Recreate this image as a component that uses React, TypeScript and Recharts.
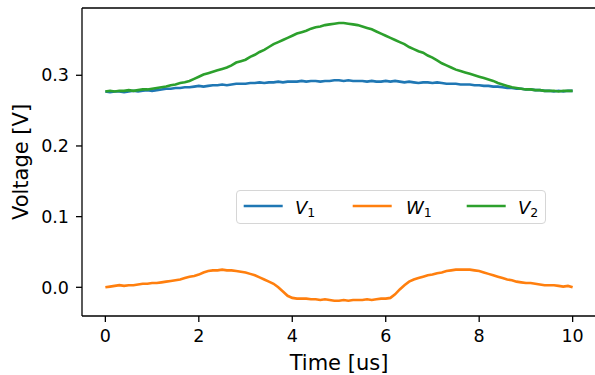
import React from "react";
import { LineChart, Line, XAxis, YAxis, Label, ReferenceLine } from "recharts";

const times = [
  0, 0.1, 0.2, 0.3, 0.4, 0.5, 0.6, 0.7, 0.8, 0.9,
  1, 1.1, 1.2, 1.3, 1.4, 1.5, 1.6, 1.7, 1.8, 1.9,
  2, 2.1, 2.2, 2.3, 2.4, 2.5, 2.6, 2.7, 2.8, 2.9,
  3, 3.1, 3.2, 3.3, 3.4, 3.5, 3.6, 3.7, 3.8, 3.9,
  4, 4.1, 4.2, 4.3, 4.4, 4.5, 4.6, 4.7, 4.8, 4.9,
  5, 5.1, 5.2, 5.3, 5.4, 5.5, 5.6, 5.7, 5.8, 5.9,
  6, 6.1, 6.2, 6.3, 6.4, 6.5, 6.6, 6.7, 6.8, 6.9,
  7, 7.1, 7.2, 7.3, 7.4, 7.5, 7.6, 7.7, 7.8, 7.9,
  8, 8.1, 8.2, 8.3, 8.4, 8.5, 8.6, 8.7, 8.8, 8.9,
  9, 9.1, 9.2, 9.3, 9.4, 9.5, 9.6, 9.7, 9.8, 9.9,
  10,
];

const v1 = [
  0.277, 0.276, 0.277, 0.277, 0.276, 0.277, 0.278, 0.277, 0.278, 0.279,
  0.278, 0.279, 0.28, 0.281, 0.281, 0.282, 0.282, 0.283, 0.283, 0.284,
  0.285, 0.284, 0.285, 0.286, 0.286, 0.287, 0.286, 0.287, 0.288, 0.288,
  0.288, 0.289, 0.289, 0.29, 0.289, 0.29, 0.29, 0.291, 0.29, 0.291,
  0.291, 0.291, 0.292, 0.291, 0.292, 0.292, 0.291, 0.292, 0.292, 0.293,
  0.293, 0.292, 0.293, 0.292, 0.292, 0.292, 0.291, 0.292, 0.291, 0.291,
  0.292, 0.291, 0.292, 0.291, 0.29, 0.291, 0.29, 0.289, 0.29, 0.29,
  0.289, 0.29, 0.289, 0.288, 0.288, 0.288, 0.287, 0.287, 0.287, 0.286,
  0.286, 0.285, 0.285, 0.284, 0.284, 0.283, 0.282, 0.282, 0.281, 0.281,
  0.28, 0.28, 0.279, 0.279, 0.278, 0.278, 0.277, 0.278, 0.277, 0.278,
  0.278,
];

const w1 = [
  0.0, 0.001, 0.002, 0.003, 0.002, 0.003, 0.003, 0.004, 0.005, 0.005,
  0.006, 0.006, 0.007, 0.008, 0.009, 0.01, 0.011, 0.013, 0.015, 0.016,
  0.018, 0.021, 0.023, 0.024, 0.024, 0.025, 0.024, 0.024, 0.023, 0.022,
  0.021, 0.019, 0.017, 0.014, 0.011, 0.008, 0.005, 0.0, -0.006, -0.012,
  -0.015, -0.016, -0.016, -0.016, -0.017, -0.017, -0.018, -0.017, -0.018, -0.019,
  -0.019, -0.018, -0.019, -0.018, -0.018, -0.018, -0.017, -0.018, -0.017, -0.016,
  -0.016, -0.015, -0.01, -0.003, 0.003, 0.008, 0.011, 0.013, 0.015, 0.017,
  0.018, 0.02, 0.021, 0.023, 0.024, 0.025, 0.025, 0.025, 0.025, 0.024,
  0.023, 0.021, 0.019, 0.017, 0.015, 0.013, 0.011, 0.01, 0.008, 0.007,
  0.006, 0.006, 0.005, 0.004, 0.003, 0.003, 0.003, 0.002, 0.001, 0.002,
  0.0,
];

const v2 = [
  0.277, 0.278, 0.277, 0.278, 0.278, 0.279, 0.278, 0.279, 0.28, 0.28,
  0.281, 0.282, 0.283, 0.284, 0.286, 0.287, 0.289, 0.29, 0.292, 0.295,
  0.298, 0.301, 0.303, 0.305, 0.307, 0.309, 0.311, 0.314, 0.318, 0.32,
  0.322, 0.326, 0.329, 0.333, 0.336, 0.34, 0.344, 0.347, 0.35, 0.353,
  0.356, 0.359, 0.361, 0.363, 0.366, 0.368, 0.369, 0.371, 0.372, 0.373,
  0.374, 0.374, 0.373, 0.372, 0.371, 0.369, 0.367, 0.365, 0.362, 0.359,
  0.356, 0.353, 0.35, 0.347, 0.344, 0.34, 0.337, 0.334, 0.332, 0.328,
  0.325, 0.321, 0.317, 0.314, 0.311, 0.308, 0.306, 0.304, 0.302, 0.3,
  0.298, 0.296, 0.294, 0.292, 0.289, 0.287, 0.285, 0.283, 0.282, 0.281,
  0.28, 0.28, 0.279, 0.279, 0.278, 0.278, 0.278, 0.277, 0.278, 0.278,
  0.278,
];

const xTicks = [0, 2, 4, 6, 8, 10];
const yTicks = [0, 0.1, 0.2, 0.3];
const xDomain: [number, number] = [-0.5, 10.5];
const yDomain: [number, number] = [-0.0406, 0.3952];

const series = [
  { key: "v1", base: "V", sub: "1", color: "#1f77b4" },
  { key: "w1", base: "W", sub: "1", color: "#ff7f0e" },
  { key: "v2", base: "V", sub: "2", color: "#2ca02c" },
];

const rows = times.map((t, i) => ({ t, v1: v1[i], w1: w1[i], v2: v2[i] }));

const FONT = "'DejaVu Sans', sans-serif";
const tickStyle = { fontFamily: FONT, fontSize: 17.5, fill: "#000" };

const legendLineX = [6.7, 115.7, 229.7];
const legendTextX = [58, 169, 281];

function LegendBox() {
  return (
    <div
      style={{
        position: "absolute",
        left: 236,
        top: 190,
        width: 308,
        height: 32,
        border: "1px solid #d6d6d6",
        borderRadius: 4,
        background: "rgba(255,255,255,0.8)",
      }}
    >
      <svg width={308} height={32} style={{ position: "absolute", left: 0, top: 0 }}>
        {series.map((s, i) => (
          <g key={s.key}>
            <line
              x1={legendLineX[i]}
              x2={legendLineX[i] + 39}
              y1={15}
              y2={15}
              stroke={s.color}
              strokeWidth={2.6}
            />
            <text
              x={legendTextX[i]}
              y={22.5}
              fontFamily={FONT}
              fontSize={18}
              fill="#000"
            >
              <tspan fontStyle="italic">{s.base}</tspan>
              <tspan fontSize={12.5} dy={3}>
                {s.sub}
              </tspan>
            </text>
          </g>
        ))}
      </svg>
    </div>
  );
}

export default function App() {
  return (
    <div style={{ position: "relative", width: 595, height: 375, overflow: "hidden", background: "#fff" }}>
      <style>{"body{margin:0;}"}</style>
      <LineChart
        width={596}
        height={375}
        data={rows}
        margin={{ top: 8, right: 0, bottom: 0, left: 0 }}
      >
        <XAxis
          dataKey="t"
          type="number"
          domain={xDomain}
          allowDataOverflow
          ticks={xTicks}
          height={59}
          tickSize={6}
          tickMargin={8}
          tick={tickStyle}
          tickLine={{ stroke: "#000", strokeWidth: 1.3 }}
          axisLine={{ stroke: "#000", strokeWidth: 1.3 }}
        >
          <Label
            value="Time [us]"
            position="insideBottom"
            offset={5}
            style={{ fontFamily: FONT, fontSize: 21, fill: "#000" }}
          />
        </XAxis>
        <YAxis
          type="number"
          domain={yDomain}
          allowDataOverflow
          ticks={yTicks}
          width={82}
          tickSize={6}
          tickMargin={7}
          tick={tickStyle}
          tickFormatter={(v: number) => v.toFixed(1)}
          tickLine={{ stroke: "#000", strokeWidth: 1.3 }}
          axisLine={{ stroke: "#000", strokeWidth: 1.3 }}
        >
          <Label
            content={(props: any) => {
              const vb = props.viewBox || { x: 0, y: 8, width: 82, height: 308 };
              const cx = 28;
              const cy = vb.y + vb.height / 2;
              return (
                <text
                  x={cx}
                  y={cy}
                  transform={`rotate(-90 ${cx} ${cy})`}
                  textAnchor="middle"
                  fontFamily={FONT}
                  fontSize={21}
                  fill="#000"
                >
                  Voltage [V]
                </text>
              );
            }}
          />
        </YAxis>
        <ReferenceLine
          y={yDomain[1]}
          stroke="#000"
          strokeWidth={1.3}
          ifOverflow="visible"
        />
        {series.map((s) => (
          <Line
            key={s.key}
            dataKey={s.key}
            type="linear"
            stroke={s.color}
            strokeWidth={2.6}
            dot={false}
            activeDot={false}
            isAnimationActive={false}
          />
        ))}
      </LineChart>
      <LegendBox />
    </div>
  );
}
